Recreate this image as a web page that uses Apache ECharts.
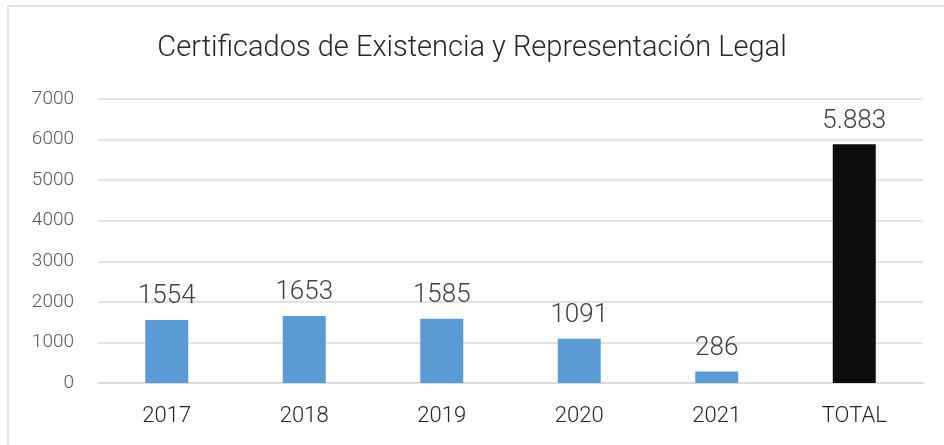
<!DOCTYPE html>
<html>
<head>
<meta charset="utf-8">
<script src="https://cdn.jsdelivr.net/npm/echarts@6/dist/echarts.min.js"></script>
<style>
html, body { margin: 0; padding: 0; background: #fff; }
#chart { width: 944px; height: 445px; }
</style>
</head>
<body>
<div id="chart"></div>
<script>
// datos del grafico
var categories = ['2017', '2018', '2019', '2020', '2021', 'TOTAL'];
var values = [1554, 1653, 1585, 1091, 286, 5883];
var barColors = ['#5B9BD5', '#5B9BD5', '#5B9BD5', '#5B9BD5', '#5B9BD5', '#0D0D0D'];
var valueLabels = ['1554', '1653', '1585', '1091', '286', '5.883'];

var font = '"Liberation Sans Narrow", "Roboto", sans-serif';
var myChart = echarts.init(document.getElementById('chart'));

var seriesData = values.map(function(v, i) {
	return { value: v, itemStyle: { color: barColors[i] } };
});

var option = {
	animation: false,
	graphic: [{
		type: 'rect',
		shape: { x: 8, y: 6, width: 960, height: 460 },
		style: { fill: 'none', stroke: '#D9D9D9', lineWidth: 1.5 }
	}],
	title: {
		text: 'Certificados de Existencia y Representación Legal',
		left: 'center',
		top: 29,
		textStyle: { fontFamily: font, fontSize: 29, fontWeight: 300, color: '#262626' }
	},
	grid: { left: 98, right: 21, top: 99, bottom: 62 },
	xAxis: {
		type: 'category',
		data: categories,
		axisLine: { show: true, lineStyle: { color: '#D9D9D9', width: 1.5 } },
		axisTick: { show: false },
		axisLabel: { fontFamily: font, fontSize: 22, fontWeight: 300, color: '#262626', margin: 22 }
	},
	yAxis: {
		type: 'value',
		min: 0,
		max: 7000,
		interval: 1000,
		axisLine: { show: false },
		axisTick: { show: false },
		splitLine: { lineStyle: { color: '#D9D9D9', width: 1.5 } },
		axisLabel: {
			fontFamily: font, fontSize: 19, fontWeight: 300, color: '#595959', margin: 24,
			formatter: function(v) { return String(v); }
		}
	},
	series: [{
		type: 'bar',
		data: seriesData,
		barWidth: 43,
		label: {
			show: true,
			position: 'top',
			distance: 10,
			fontFamily: font,
			fontSize: 26,
			fontWeight: 300,
			color: '#404040',
			formatter: function(p) { return valueLabels[p.dataIndex]; }
		}
	}]
};
myChart.setOption(option);
</script>
</body>
</html>
